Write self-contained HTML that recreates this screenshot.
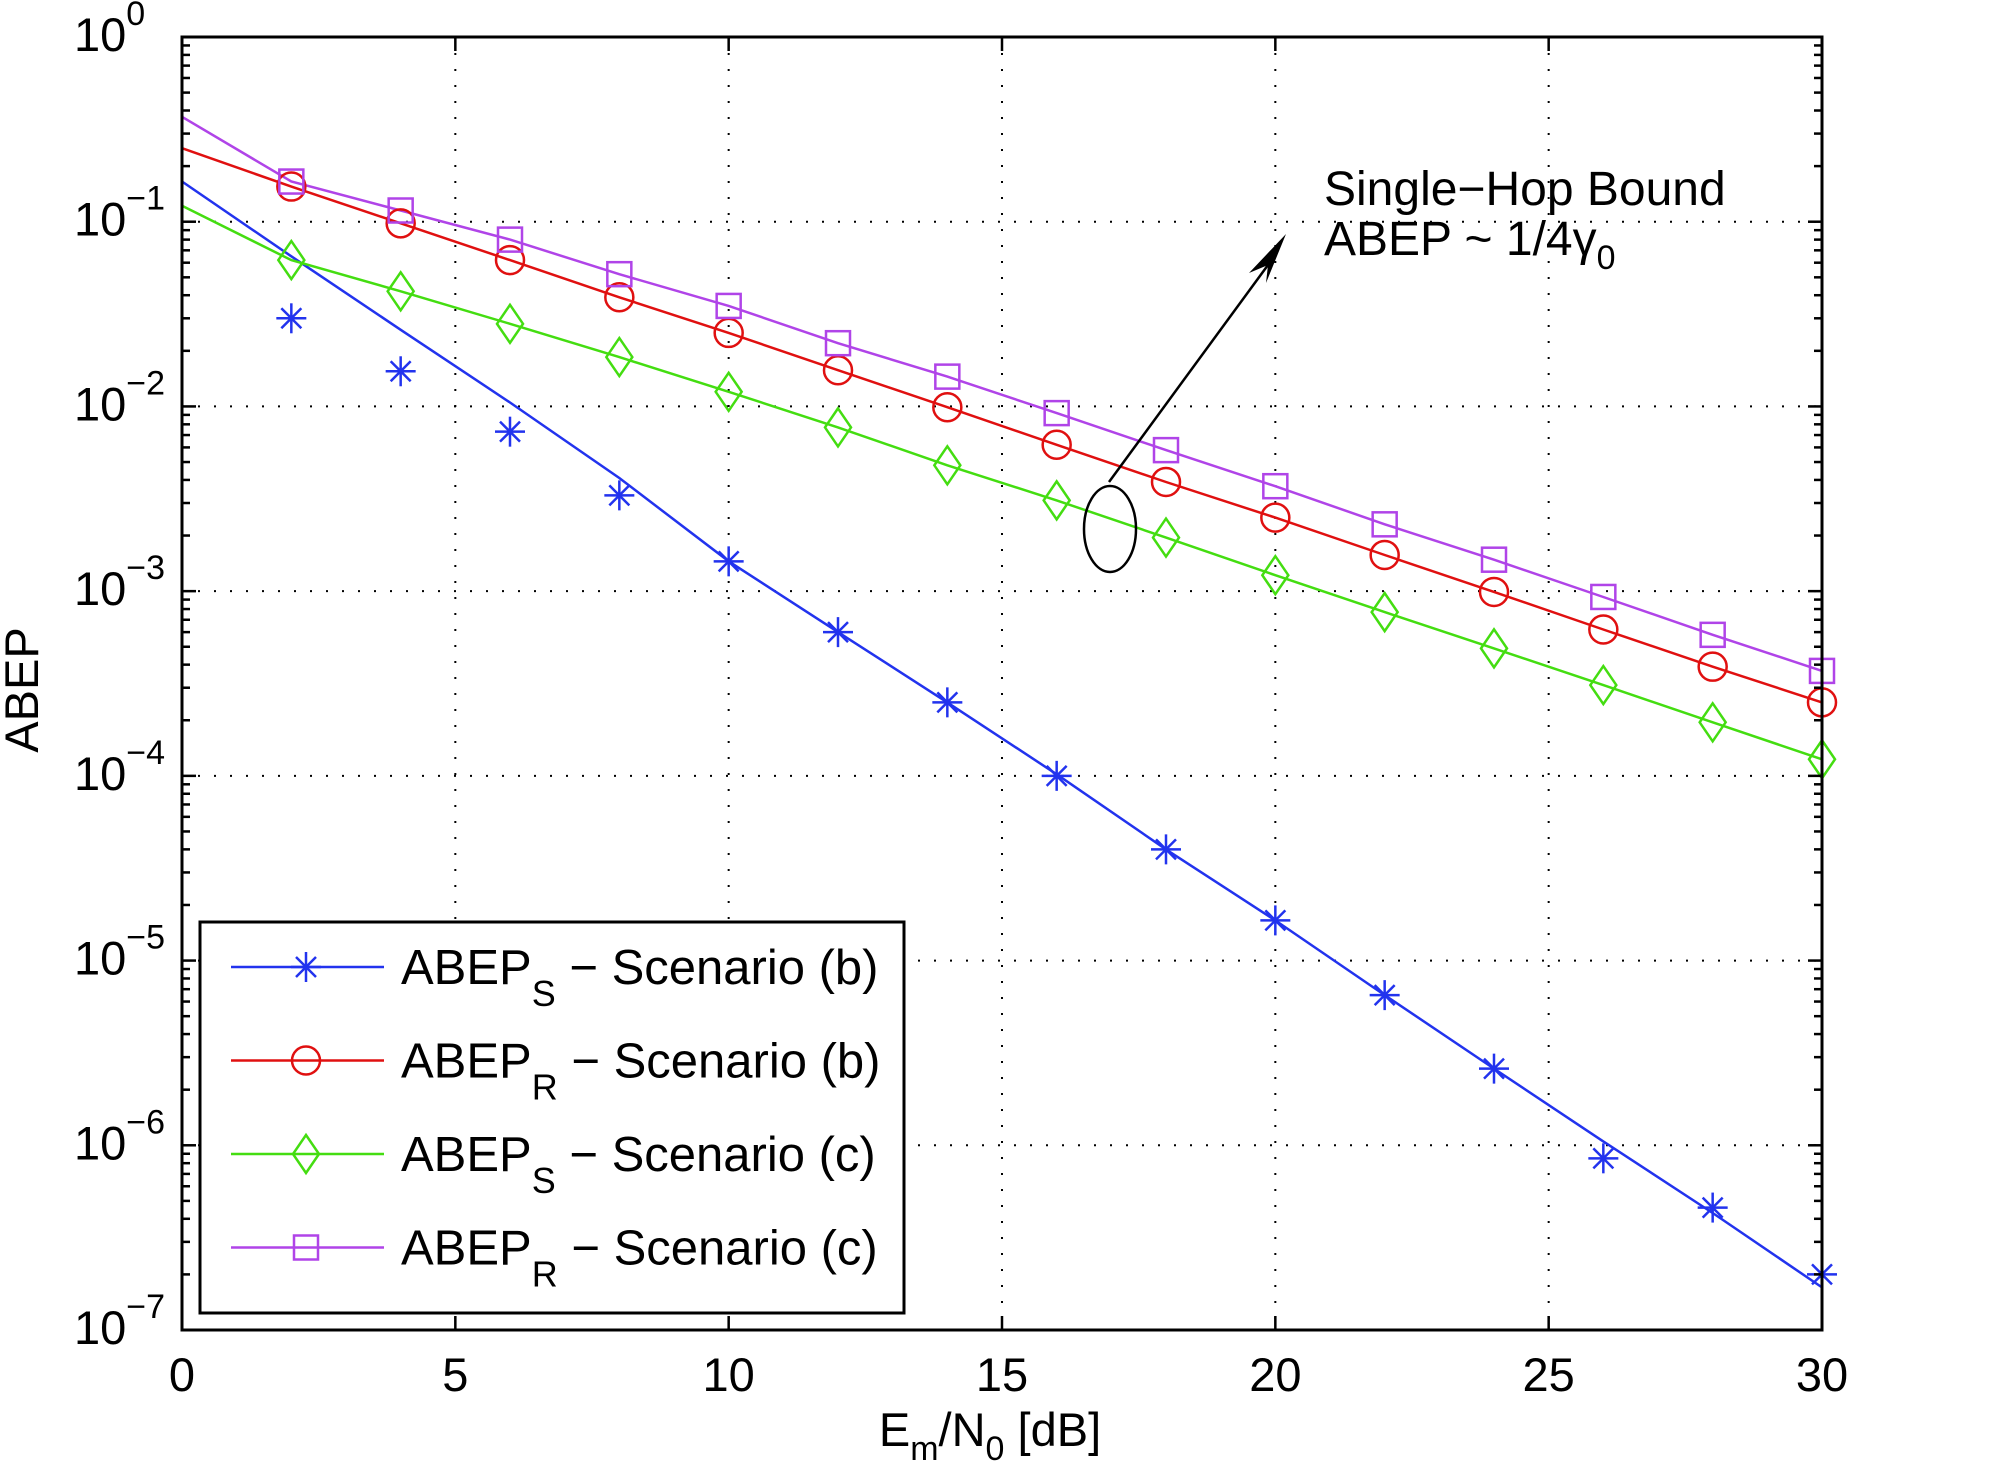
<!DOCTYPE html>
<html><head><meta charset="utf-8">
<style>
html,body{margin:0;padding:0;background:#fff;}
svg{display:block;font-family:"Liberation Sans",Arial,sans-serif;}
</style></head>
<body>
<svg id="chart" width="2016" height="1478" viewBox="0 0 2016 1478" xmlns="http://www.w3.org/2000/svg">
<rect width="2016" height="1478" fill="#fff"/>
<g id="grid"></g>
<g id="series"></g>
<g id="axes"></g>
<g id="annot">
  <line x1="1109" y1="482" x2="1276" y2="254" stroke="#000" stroke-width="2.5"/>
  <polygon points="1286,234 1266,283 1268,265 1249,273" fill="#000"/>
  <ellipse cx="1110" cy="529" rx="26" ry="43" fill="none" stroke="#000" stroke-width="2.5"/>
  <text x="1324" y="205" font-size="48">Single−Hop Bound</text>
  <text x="1324" y="255" font-size="48">ABEP ~ 1/4γ<tspan font-size="34" dy="14">0</tspan></text>
</g>
<g id="legend"></g>
</svg>
<script>
const xs = [0,2,4,6,8,10,12,14,16,18,20,22,24,26,28,30];
const markerX = [2,4,6,8,10,12,14,16,18,20,22,24,26,28,30];
const blueLine = [0.165,0.065,0.026,0.0105,0.0041,0.00145,6e-4,2.5e-4,1.02e-4,4e-5,1.65e-5,6.5e-6,2.6e-6,1.05e-6,4.3e-7,1.7e-7];
const blueMarkers = [0.030,0.0155,0.0073,0.0033,0.00145,6e-4,2.5e-4,1e-4,4e-5,1.65e-5,6.5e-6,2.6e-6,8.5e-7,4.6e-7,2e-7];
const redVals = [0.25,0.155,0.098,0.062,0.039,0.025,0.0157,0.0099,0.0062,0.0039,0.0025,0.00157,0.00099,0.00062,0.00039,0.00025];
const greenVals = [0.122,0.062,0.042,0.028,0.0185,0.012,0.0077,0.0048,0.0031,0.00195,0.00122,0.00077,0.00049,0.00031,0.000195,0.000123];
const purpleVals = [0.37,0.165,0.115,0.08,0.052,0.035,0.022,0.0145,0.0092,0.0058,0.0037,0.0023,0.00148,0.00093,0.00058,0.00037];
const xTicks = [0,5,10,15,20,25,30];
const yExps = [0,-1,-2,-3,-4,-5,-6,-7];

const L=182,R=1822,T=37,B=1330;
const X = v => L + (v-0)/(30-0)*(R-L);
const Y = v => T + (0 - Math.log10(v))/7*(B-T);
const NS="http://www.w3.org/2000/svg";
function mk(tag, attrs, parent){const e=document.createElementNS(NS,tag);for(const k in attrs)e.setAttribute(k,attrs[k]);parent.appendChild(e);return e;}
const grid=document.getElementById('grid'), axes=document.getElementById('axes'), ser=document.getElementById('series'), leg=document.getElementById('legend');

xTicks.forEach(t=>{ if(t>0&&t<30){const g=mk('line',{x1:X(t),x2:X(t),y1:T,y2:B,stroke:'#000','stroke-width':2,'stroke-dasharray':'2 14'},grid);

}});
yExps.forEach(e=>{ if(e<0&&e>-7){const g=mk('line',{x1:L,x2:R,y1:Y(Math.pow(10,e)),y2:Y(Math.pow(10,e)),stroke:'#000','stroke-width':2,'stroke-dasharray':'2 14'},grid);

}});

function line(vals, xv, color, name){const d=vals.map((v,i)=>(i?'L':'M')+X(xv[i]).toFixed(1)+' '+Y(v).toFixed(1)).join(' ');
const p=mk('path',{d:d,fill:'none',stroke:color,'stroke-width':2.5},ser);

}
function marker(type,cx,cy,color,parent){
  let g=mk('g',{stroke:color,'stroke-width':2.5,fill:'none'},parent);
  if(type==='star'){mk('line',{x1:cx-15,y1:cy,x2:cx+15,y2:cy},g);mk('line',{x1:cx,y1:cy-15,x2:cx,y2:cy+15},g);mk('line',{x1:cx-10,y1:cy-10,x2:cx+10,y2:cy+10},g);mk('line',{x1:cx-10,y1:cy+10,x2:cx+10,y2:cy-10},g);}
  else if(type==='circle'){mk('circle',{cx:cx,cy:cy,r:14},g);}
  else if(type==='diamond'){mk('polygon',{points:`${cx},${cy-19} ${cx+13},${cy} ${cx},${cy+19} ${cx-13},${cy}`},g);}
  else {mk('rect',{x:cx-12,y:cy-12,width:24,height:24},g);}
  return g;
}
line(blueLine,xs,'#2233ee','line-abep-s-b');
line(redVals,xs,'#e01010','line-abep-r-b');
line(greenVals,xs,'#44dd11','line-abep-s-c');
line(purpleVals,xs,'#b044e8','line-abep-r-c');
markerX.forEach((x,i)=>{
  let m=marker('star',X(x),Y(blueMarkers[i]),'#2233ee',ser);
  
  
  m=marker('circle',X(x),Y(redVals[i+1]),'#e01010',ser);
  
  
  m=marker('diamond',X(x),Y(greenVals[i+1]),'#44dd11',ser);
  
  
  m=marker('square',X(x),Y(purpleVals[i+1]),'#b044e8',ser);
  
  
});

const box=mk('rect',{x:L,y:T,width:R-L,height:B-T,fill:'none',stroke:'#000','stroke-width':3},axes);


xTicks.forEach(t=>{
  mk('line',{x1:X(t),x2:X(t),y1:B,y2:B-14,stroke:'#000','stroke-width':2.5},axes);
  mk('line',{x1:X(t),x2:X(t),y1:T,y2:T+14,stroke:'#000','stroke-width':2.5},axes);
  const tx=mk('text',{x:X(t),y:1391,'font-size':47,'text-anchor':'middle'},axes);
  tx.textContent=t;
  
  
});
yExps.forEach(e=>{
  const y=Y(Math.pow(10,e));
  mk('line',{x1:L,x2:L+14,y1:y,y2:y,stroke:'#000','stroke-width':2.5},axes);
  mk('line',{x1:R,x2:R-14,y1:y,y2:y,stroke:'#000','stroke-width':2.5},axes);
  if(e>-7){for(let k=2;k<=9;k++){const yy=Y(k*Math.pow(10,e-1));
    mk('line',{x1:L,x2:L+8,y1:yy,y2:yy,stroke:'#000','stroke-width':2.5},axes);
    mk('line',{x1:R,x2:R-8,y1:yy,y2:yy,stroke:'#000','stroke-width':2.5},axes);}}
  const tx=mk('text',{x:74,y:y+14,'font-size':47},axes);
  tx.innerHTML='10<tspan font-size="34" dy="-26">'+(e===0?'0':'−'+(-e))+'</tspan>';
  
  
});
let xl=mk('text',{x:990,y:1446,'font-size':47,'text-anchor':'middle'},axes);
xl.innerHTML='E<tspan font-size="34" dy="14">m</tspan><tspan dy="-14">/N</tspan><tspan font-size="34" dy="14">0</tspan><tspan dy="-14"> [dB]</tspan>';


let yl=mk('text',{x:38,y:690,'font-size':47,'text-anchor':'middle',transform:'rotate(-90 38 690)'},axes);
yl.textContent='ABEP';



const lb=mk('rect',{x:200,y:922,width:704,height:391,fill:'#fff',stroke:'#000','stroke-width':3},leg);


const legTypes=['star','circle','diamond','square'];
const legColors=['#2233ee','#e01010','#44dd11','#b044e8'];
const legSubs=['S','R','S','R'];
const legScen=['(b)','(b)','(c)','(c)'];
legTypes.forEach((t,i)=>{
  const y=967+i*93.5;
  const g=mk('g',{},leg);
  
  
  mk('line',{x1:231,x2:384,y1:y,y2:y,stroke:legColors[i],'stroke-width':2.5},g);
  marker(t,306,y,legColors[i],g);
  const tx=mk('text',{x:401,y:y+17,'font-size':49},g);
  tx.innerHTML='ABEP<tspan font-size="36" dy="22">'+legSubs[i]+'</tspan><tspan dy="-22"> − Scenario '+legScen[i]+'</tspan>';
});
</script>
</body></html>
